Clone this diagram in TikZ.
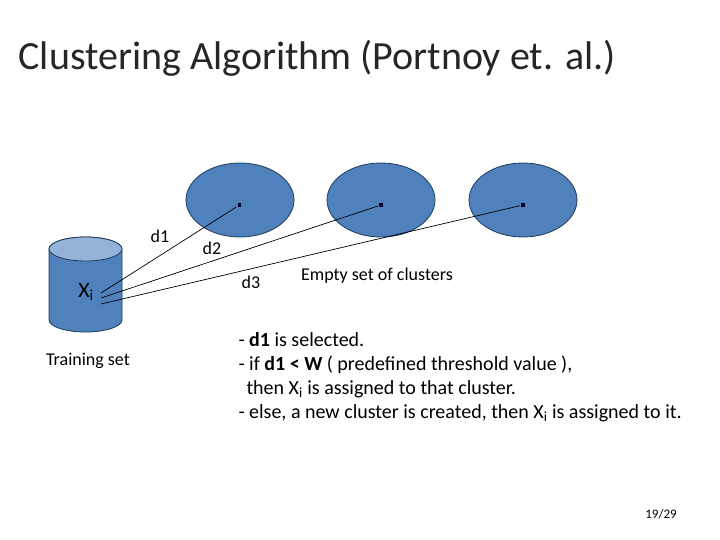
\documentclass[tikz,border=0pt]{standalone}
\usepackage{fontspec}
\setmainfont{Carlito}
\usetikzlibrary{positioning, shapes.geometric}
\definecolor{clusterblue}{HTML}{4F81BD}
\definecolor{clusteredge}{HTML}{1F3A5F}
\definecolor{drumtop}{HTML}{95B3D7}
\tikzset{
  cluster/.style={draw=clusteredge,line width=0.8pt,fill=clusterblue,ellipse,minimum width=108pt,minimum height=74pt,inner sep=0pt},
  centre/.style={fill=black!85!blue,minimum size=3.2pt,inner sep=0pt,outer sep=1.5pt},
  txt/.style={font=\fontsize{18}{20}\selectfont}
}
\begin{document}
\begin{tikzpicture}[x=1pt,y=-1pt]
    \useasboundingbox (0,0) rectangle (720,540);

    \node[anchor=west,font=\fontsize{40}{44}\selectfont,text=black!85] (title) at (15,58) {Clustering Algorithm (Portnoy et. al.)};

    % Empty clusters
    \node[cluster] (c1) at (240,200) {};
    \node[cluster] (c2) at (381,200) {};
    \node[cluster] (c3) at (523,200) {};
    \node[centre] (p1) at (239.5,205) {};
    \node[centre] (p2) at (381,205) {};
    \node[centre] (p3) at (523,205) {};

    % Training set
    \filldraw[draw=clusteredge,line width=0.8pt,fill=clusterblue] (49,249) -- (49,320)
        arc[start angle=180,end angle=360,x radius=36.5pt,y radius=12pt] -- (122,249)
        arc[start angle=0,end angle=180,x radius=36.5pt,y radius=12pt] -- cycle;
    \filldraw[draw=clusteredge,line width=0.8pt,fill=drumtop] (85.5,249) ellipse[x radius=36.5pt,y radius=12pt];
    \node[font=\fontsize{22}{24}\selectfont] (xi) at (86,292) {X\textsubscript{i}};
    \node[txt] (train) at (88,361) {Training set};

    % Distances
    \coordinate (x1) at (101,293);
    \coordinate (x2) at (101,298);
    \coordinate (x3) at (101,304);
    \draw[line width=0.7pt] (x1) -- (p1);
    \draw[line width=0.7pt] (x2) -- (p2);
    \draw[line width=0.7pt] (x3) -- (p3);
    \node[txt] (d1) at (160,236) {d1};
    \node[txt] (d2) at (212,248) {d2};
    \node[txt] (d3) at (251,282) {d3};

    \node[txt] (empty) at (377,276) {Empty set of clusters};

    % Explanation
    \node[anchor=north west,align=left,font=\fontsize{20}{24}\selectfont] (rules) at (235,329) {%
      - \textbf{d1} is selected.\\
      - if \textbf{d1 < W} ( predefined threshold value ),\\
      \hspace{8pt}then X\textsubscript{i} is assigned to that cluster.\\
      - else, a new cluster is created, then X\textsubscript{i} is assigned to it.};

    \node[font=\fontsize{13}{15}\selectfont] (page) at (661,514) {19/29};
\end{tikzpicture}
\end{document}
